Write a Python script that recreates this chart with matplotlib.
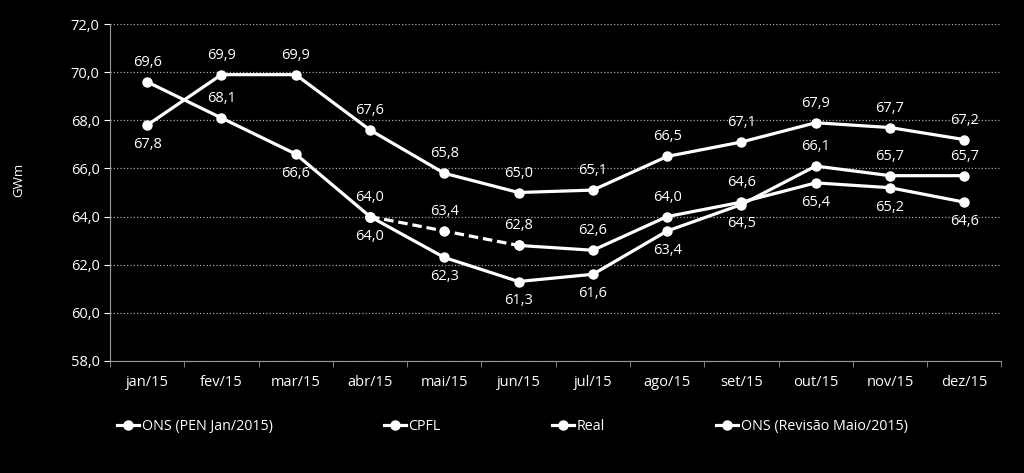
import numpy as np
import matplotlib.pyplot as plt

plt.rcParams['font.family'] = ['Open Sans', 'DejaVu Sans']

meses = ['jan/15', 'fev/15', 'mar/15', 'abr/15', 'mai/15', 'jun/15',
         'jul/15', 'ago/15', 'set/15', 'out/15', 'nov/15', 'dez/15']

nan = np.nan
ons_pen = [67.8, 69.9, 69.9, 67.6, 65.8, 65.0, 65.1, 66.5, 67.1, 67.9, 67.7, 67.2]
cpfl = [nan, nan, nan, 64.0, 62.3, 61.3, 61.6, 63.4, 64.5, 66.1, 65.7, 65.7]
real = [69.6, 68.1, 66.6, 64.0, nan, nan, nan, nan, nan, nan, nan, nan]
ons_rev = [nan, nan, nan, 64.0, 63.4, 62.8, 62.6, 64.0, 64.6, 65.4, 65.2, 64.6]

# label side per point: 1 above, -1 below, 0 none
pos_pen = [-1, 1, 1, 1, 1, 1, 1, 1, 1, 1, 1, 1]
pos_cpfl = [0, 0, 0, -1, -1, -1, -1, -1, -1, 1, 1, 1]
pos_real = [1, 1, -1, 1, 0, 0, 0, 0, 0, 0, 0, 0]
pos_rev = [0, 0, 0, 0, 1, 1, 1, 1, 1, -1, -1, -1]

x = np.arange(len(meses))

fig = plt.figure(figsize=(10.24, 4.73), dpi=100, facecolor='black')
ax = fig.add_axes([0.1074, 0.237, 0.8706, 0.712])
ax.set_facecolor('black')

kw = dict(color='white', lw=2.3, marker='o', markersize=6.5)
ax.plot(x, ons_pen, label='ONS (PEN Jan/2015)', **kw)
ax.plot(x, cpfl, label='CPFL', **kw)
ax.plot(x, real, label='Real', **kw)
rev = np.array(ons_rev)
# trecho tracejado abr-jun
ax.plot(x[3:6], rev[3:6], color='white', lw=2.3, ls=(0, (3, 1.5)), marker='o', markersize=6.5)
rev_sol = rev.copy()
rev_sol[:5] = nan
ax.plot(x, rev_sol, label='ONS (Revisão Maio/2015)', **kw)


def rotulos(vals, pos):
    for i, (v, p) in enumerate(zip(vals, pos)):
        if p == 0 or np.isnan(v):
            continue
        ax.annotate(f'{v:.1f}'.replace('.', ','), (i, v), xytext=(0, 14 * p),
                    textcoords='offset points', ha='center', va='center',
                    color='white', fontsize=10.5)


rotulos(ons_pen, pos_pen)
rotulos(cpfl, pos_cpfl)
rotulos(real, pos_real)
rotulos(ons_rev, pos_rev)

ax.set_xlim(-0.5, 11.5)
ax.set_ylim(58, 72)
ax.set_yticks(np.arange(58, 72.1, 2))
ax.set_yticklabels([f'{v:.1f}'.replace('.', ',') for v in np.arange(58, 72.1, 2)])
ax.set_xticks(x)
ax.set_xticklabels(meses)
ax.set_xticks(np.arange(-0.5, 12, 1), minor=True)
ax.tick_params(axis='x', which='major', length=0, pad=10)
ax.tick_params(axis='x', which='minor', length=4, color='#999999')
ax.tick_params(axis='y', length=4, color='#999999')
ax.tick_params(colors='white', labelsize=10.5)
ax.yaxis.grid(True, color='#aaaaaa', ls=':', lw=0.9)
for s in ['top', 'right']:
    ax.spines[s].set_visible(False)
for s in ['left', 'bottom']:
    ax.spines[s].set_color('#999999')

fig.text(0.018, 0.62, 'GWm', rotation=90, color='white', fontsize=9.5, va='center', ha='center')

leg = fig.legend(loc='center left', bbox_to_anchor=(0.102, 0.099), ncol=4, frameon=False,
                 fontsize=10.3, handlelength=1.5, handletextpad=0.2, columnspacing=7.8,
                 labelcolor='white')

fig.savefig('out.png', dpi=100, facecolor='black')
